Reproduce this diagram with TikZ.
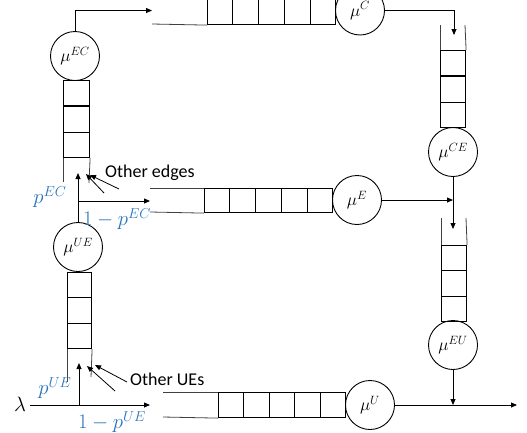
\documentclass[tikz,border=0pt]{standalone}
\usepackage[no-math]{fontspec}
\usetikzlibrary{arrows.meta,calc}
\newfontfamily\labfont{Carlito}
\definecolor{pblue}{RGB}{40,116,186}
\begin{document}
\begin{tikzpicture}[x=1pt,y=-1pt,
  srv/.style={draw,circle,minimum size=49pt,inner sep=0pt,line width=0.9pt,font=\LARGE},
  queue/.style={draw,rectangle,line width=1.1pt,inner sep=0pt,anchor=north west},
  cell/.style={line width=1.1pt},
  rail/.style={draw=black!75,line width=0.8pt},
  flow/.style={draw,line width=0.8pt,-{Triangle[length=6pt,width=5pt]}},
  prob/.style={text=pblue,font=\huge,inner sep=0pt},
  lab/.style={font=\labfont\fontsize{18}{20}\selectfont,inner sep=0pt}]
\useasboundingbox (0,0) rectangle (527,432);

% servers
\node[srv] (muC)  at (360,10.5) {$\mu^{C}$};
\node[srv] (muEC) at (75,56)  {$\mu^{EC}$};
\node[srv] (muCE) at (453,152) {$\mu^{CE}$};
\node[srv] (muE)  at (357,200) {$\mu^{E}$};
\node[srv] (muUE) at (78,247) {$\mu^{UE}$};
\node[srv] (muEU) at (453,345) {$\mu^{EU}$};
\node[srv] (muU)  at (370,405) {$\mu^{U}$};

% horizontal queues
\node[queue,minimum width=128pt,minimum height=25pt] (qC) at (207,-1) {};
\node[queue,minimum width=128pt,minimum height=24pt] (qE) at (204,188) {};
\node[queue,minimum width=127pt,minimum height=25pt] (qU) at (218,392) {};
\foreach \q in {qC,qE,qU}{
  \foreach \i in {1,...,4}
    \draw[cell] ($(\q.north west)!\i/5!(\q.north east)$) -- ($(\q.south west)!\i/5!(\q.south east)$);
}
% vertical queues
\node[queue,minimum width=26pt,minimum height=77pt] (qEC) at (63,80) {};
\node[queue,minimum width=24pt,minimum height=76pt] (qUE) at (67,272) {};
\node[queue,minimum width=25pt,minimum height=77pt] (qCE) at (440,50) {};
\node[queue,minimum width=25pt,minimum height=76pt] (qEU) at (441,245) {};
\foreach \q in {qEC,qUE,qCE,qEU}{
  \foreach \i in {1,2}
    \draw[cell] ($(\q.north west)!\i/3!(\q.south west)$) -- ($(\q.north east)!\i/3!(\q.south east)$);
}

% rails
\draw[rail] (qC.south west) -- (152,24);
\draw[rail] (qE.north west) -- (150,188);
\draw[rail] (qE.south west) -- (150,212);
\draw[rail] (qU.north west) -- (163,392);
\draw[rail] (qU.south west) -- (163,417);
\draw[rail] (qEC.south west) -- (63,182);
\draw[rail] (qEC.south east) -- (89,183);
\draw[rail] (qUE.south west) -- (67,382);
\draw[rail] (qUE.south east) -- (91,377);
\draw[rail] (qCE.north west) -- (440,25);
\draw[rail] (qCE.north east) -- (465,25);
\draw[rail] (qEU.north west) -- (441,218);
\draw[rail] (qEU.north east) -- (466,218);

% coordinates
\coordinate (inC) at (152,10.5);
\coordinate (inCE) at (454,35);
\coordinate (inEU) at (453,229);
\coordinate (jE) at (453,200);
\coordinate (jU) at (453,405);
\coordinate (out) at (517,405);
\coordinate (inEC) at (78,173);
\coordinate (splitE) at (78,201);
\coordinate (inE) at (150,201);
\coordinate (inU) at (150,405);
\coordinate (splitU) at (79,405);
\coordinate (inUE) at (79,363);
\coordinate (oe1) at (104,193);
\coordinate (oe1t) at (86,174);
\coordinate (oe2) at (119,189);
\coordinate (oe2t) at (90,175);
\coordinate (ou1) at (115,391);
\coordinate (ou1t) at (87,366);
\coordinate (ou2) at (127,382);
\coordinate (ou2t) at (95,365);

% flows
\draw[flow] (muEC.north) |- (inC);
\draw[flow] (muC.east) -| (inCE);
\draw[flow] (muCE.south) -- (inEU);
\draw[flow] (muE.east) -- (jE);
\draw[flow] (muEU.south) -- (jU);
\draw[flow] (muU.east) -- (out);
\draw[flow] (muUE.north) -- (inEC);
\draw[flow] (splitE) -- (inE);
\node[inner sep=0pt,font=\huge] (lam) at (20,404) {$\lambda$};
\draw[flow] (lam.east) ++(4,1) -- (inU);
\draw[flow] (splitU) -- (inUE);
\draw[flow] (oe1) -- (oe1t);
\draw[flow] (oe2) -- (oe2t);
\draw[flow] (ou1) -- (ou1t);
\draw[flow] (ou2) -- (ou2t);

% labels
\node[lab,anchor=west] (oe) at (105,173) {Other edges};
\node[lab,anchor=west] (ou) at (130,379) {Other UEs};
\node[prob] (pec) at (50,197) {$p^{EC}$};
\node[prob] (qec) at (117,219) {$1-p^{EC}$};
\node[prob] (pue) at (55,388) {$p^{UE}$};
\node[prob] (que) at (112,422) {$1-p^{UE}$};
\end{tikzpicture}
\end{document}
